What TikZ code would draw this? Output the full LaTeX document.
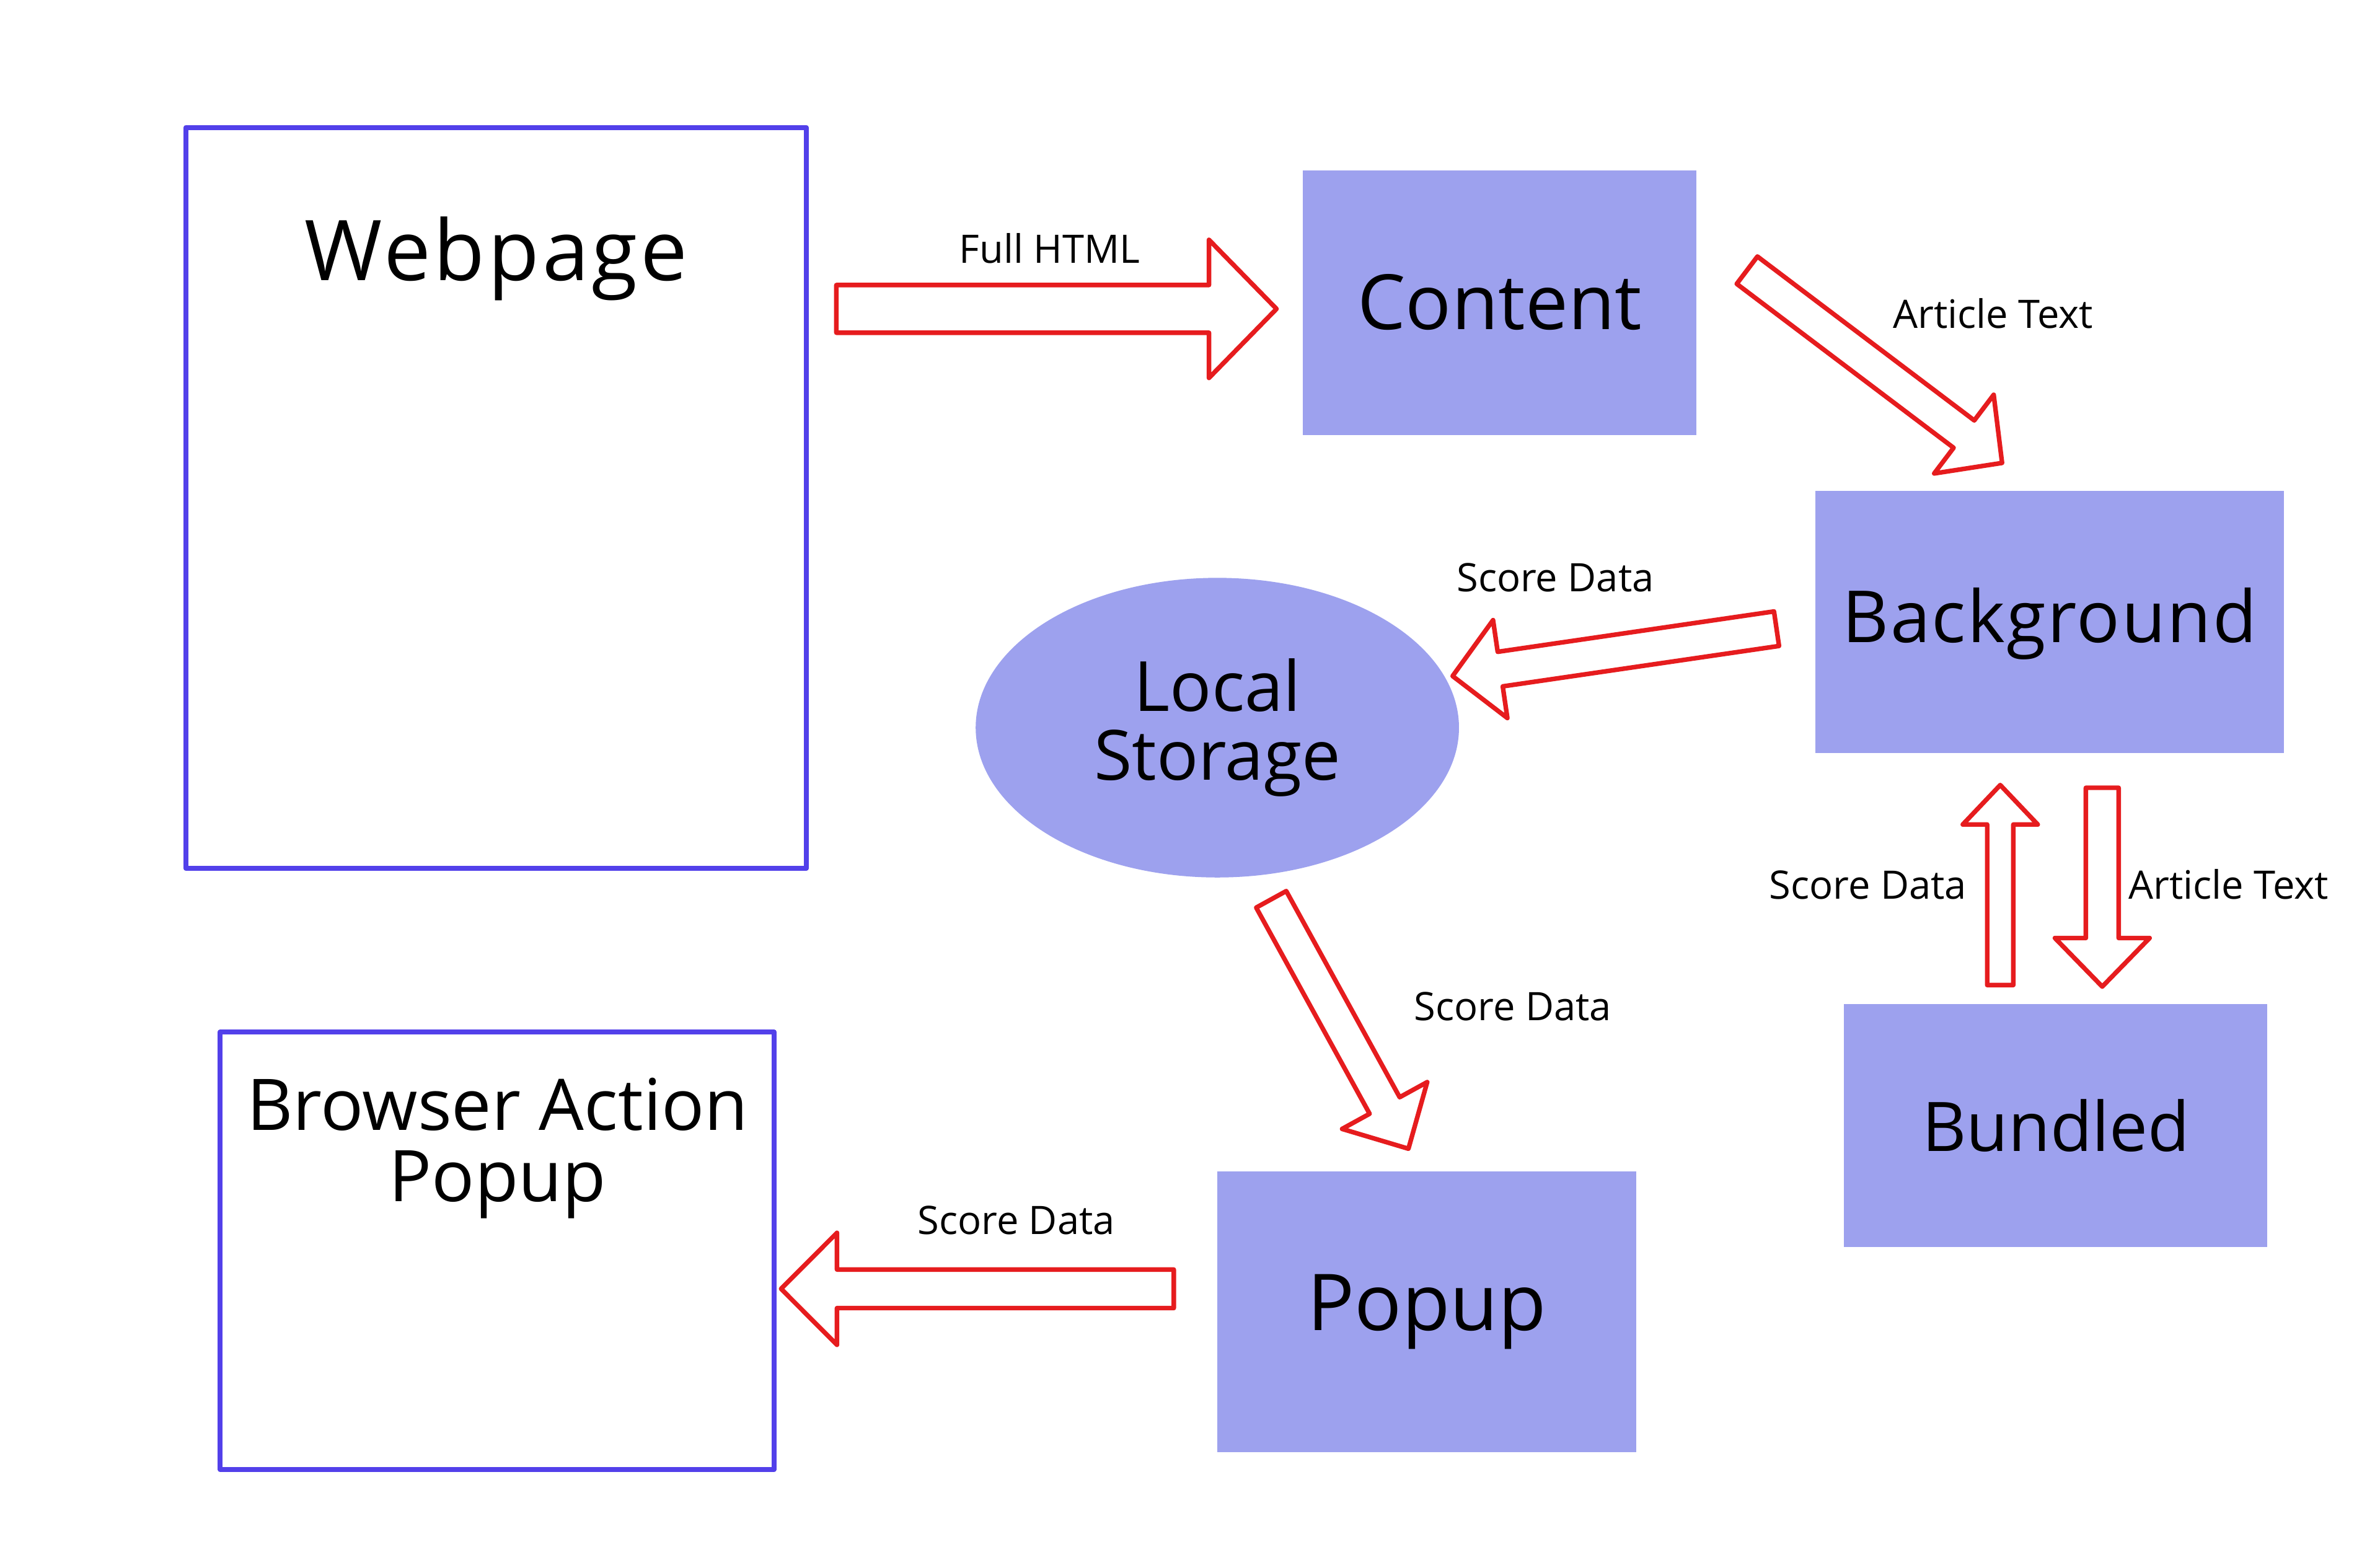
\documentclass[tikz,border=0pt]{standalone}
\usepackage{fontspec}
\setmainfont{Open Sans}
\usetikzlibrary{calc,shapes.geometric}
\definecolor{boxfill}{RGB}{157,161,238}
\definecolor{boxline}{RGB}{82,64,234}
\definecolor{arrred}{RGB}{230,28,30}
\newcommand\uu{0.0244898cm}
% block arrow: #1 tail, #2 tip, #3 shaft half width, #4 head half width, #5 head length (picture units)
\newcommand\blockarrow[5]{%
  \pgfmathsetmacro\baS{#3*0.0244898}%
  \pgfmathsetmacro\baH{#4*0.0244898}%
  \pgfmathsetmacro\baL{#5*0.0244898}%
  \coordinate (babase) at ($(#2)!\baL cm!(#1)$);
  \draw[blockarr] ($(#1)!\baS cm!90:(#2)$) -- ($(babase)!\baS cm!90:(#2)$)
    -- ($(babase)!\baH cm!90:(#2)$) -- (#2) -- ($(babase)!\baH cm!-90:(#2)$)
    -- ($(babase)!\baS cm!-90:(#2)$) -- ($(#1)!\baS cm!-90:(#2)$) -- cycle;
}
\begin{document}
\begin{tikzpicture}[x=0.0244898cm, y=-0.0244898cm,
  outlinebox/.style={draw=boxline, line width=2.3pt, fill=white, rectangle, inner sep=0pt, line join=round},
  filledbox/.style={fill=boxfill, rectangle, inner sep=0pt},
  blockarr/.style={draw=arrred, line width=2.1pt, fill=white, line join=round},
  lbl/.style={font=\fontsize{18}{20}\selectfont, anchor=base, inner sep=0pt},
  big/.style={anchor=base, inner sep=0pt}]
\useasboundingbox[fill=white] (0,0) rectangle (1568,1019.2);

% boxes
\node[outlinebox, minimum width=408.8*\uu, minimum height=488*\uu] (web) at (326.8,328) {};
\node[filledbox, minimum width=259.3*\uu, minimum height=174.3*\uu] (content) at (988,199.4) {};
\node[filledbox, minimum width=308.8*\uu, minimum height=172.5*\uu] (background) at (1350.4,409.8) {};
\node[fill=boxfill, ellipse, inner sep=0pt, minimum width=318.4*\uu, minimum height=197.4*\uu] (storage) at (802,479.4) {};
\node[filledbox, minimum width=279*\uu, minimum height=159.9*\uu] (bundled) at (1354.2,741.5) {};
\node[filledbox, minimum width=275.9*\uu, minimum height=185.1*\uu] (popup) at (940,864.3) {};
\node[outlinebox, minimum width=365*\uu, minimum height=288*\uu] (browser) at (327.5,824) {};

% box texts
\node[big, font=\fontsize{38.5}{40}\selectfont\addfontfeature{LetterSpace=3.5}] (webT) at (327,184.6) {Webpage};
\node[big, font=\fontsize{35}{38}\selectfont] (contentT) at (988,217.1) {Content};
\node[big, font=\fontsize{33}{36}\selectfont\addfontfeature{LetterSpace=2}] (backgroundT) at (1350.4,423.3) {Background};
\node[big, font=\fontsize{31.8}{34}\selectfont] (storageT1) at (802,468.6) {Local};
\node[big, font=\fontsize{31.8}{34}\selectfont] (storageT2) at (802,513.8) {Storage};
\node[big, font=\fontsize{31.4}{34}\selectfont] (bundledT) at (1354.5,758.4) {Bundled};
\node[big, font=\fontsize{36}{38}\selectfont] (popupT) at (940,876.6) {Popup};
\node[big, font=\fontsize{32.7}{35}\selectfont] (browserT1) at (327.8,744.4) {Browser Action};
\node[big, font=\fontsize{32.7}{35}\selectfont] (browserT2) at (327.8,791.6) {Popup};

% arrow end points
\coordinate (a1t) at (551,203.5);   \coordinate (a1h) at (841,203.5);
\coordinate (a2t) at (1151,178);    \coordinate (a2h) at (1319,305);
\coordinate (a3t) at (1170.4,414.2);\coordinate (a3h) at (957,445.4);
\coordinate (a4t) at (837.5,592.5); \coordinate (a4h) at (927.9,756.8);
\coordinate (a5t) at (773.3,849.1); \coordinate (a5h) at (514.6,849.1);
\coordinate (a6t) at (1317.8,649);  \coordinate (a6h) at (1317.8,517.2);
\coordinate (a7t) at (1385,519);    \coordinate (a7h) at (1385,650);

\blockarrow{a1t}{a1h}{15.7}{45.5}{44.5}
\blockarrow{a2t}{a2h}{11.3}{32.5}{31.5}
\blockarrow{a3t}{a3h}{11.5}{32.6}{31.7}
\blockarrow{a4t}{a4h}{11.3}{32}{32.5}
\blockarrow{a5t}{a5h}{12.7}{36.9}{36.8}
\blockarrow{a6t}{a6h}{8.6}{24.7}{26}
\blockarrow{a7t}{a7h}{10.8}{31.2}{32}

% arrow labels
\node[lbl] (l1) at (691.5,173.3) {Full HTML};
\node[lbl] (l2) at (1313,216.4) {Article Text};
\node[lbl] (l3) at (1024.7,389.7) {Score Data};
\node[lbl] (l4) at (1230.6,592.4) {Score Data};
\node[lbl] (l5) at (1468.2,592.4) {Article Text};
\node[lbl] (l6) at (996.7,672.4) {Score Data};
\node[lbl] (l7) at (669.5,813.3) {Score Data};
\end{tikzpicture}
\end{document}
